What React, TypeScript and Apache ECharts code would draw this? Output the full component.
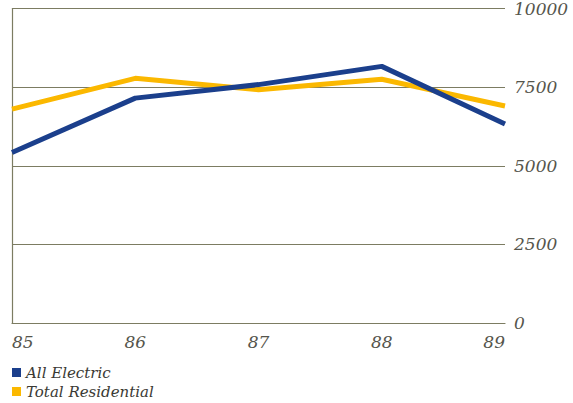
import React, { useEffect, useRef } from "react";
import * as echarts from "echarts";

const years = ["85", "86", "87", "88", "89"];
const allElectric = [5420, 7150, 7580, 8160, 6330];
const totalResidential = [6800, 7780, 7420, 7750, 6900];
const yTicks = { min: 0, max: 10000, interval: 2500 };

const BLUE = "#1b3f8c";
const YELLOW = "#fbb800";
const RULE = "#7c7c62";
const TEXT = "#55554c";
const FONT = "DejaVu Serif";

const legendText = {
  fontFamily: FONT,
  fontStyle: "italic",
  fontSize: 15,
  color: "#3a3a34",
};

export default function App() {
  const ref = useRef<HTMLDivElement>(null);

  useEffect(() => {
    if (!ref.current) return;
    const chart = echarts.init(ref.current, null, { renderer: "svg" });
    chart.setOption({
      animation: false,
      backgroundColor: "#ffffff",
      grid: { left: 12, right: 68, top: 7, bottom: 80 },
      legend: [
        {
          left: 12,
          top: 365,
          itemWidth: 9,
          itemHeight: 9,
          itemGap: 4,
          icon: "rect",
          padding: 0,
          textStyle: legendText,
          data: ["All Electric"],
        },
        {
          left: 12,
          top: 384,
          itemWidth: 9,
          itemHeight: 9,
          itemGap: 4,
          icon: "rect",
          padding: 0,
          textStyle: legendText,
          data: ["Total Residential"],
        },
      ],
      xAxis: {
        type: "category",
        data: years,
        boundaryGap: false,
        axisLine: { show: true, lineStyle: { color: RULE, width: 1.2 } },
        axisTick: { show: false },
        axisLabel: {
          fontFamily: FONT,
          fontStyle: "italic",
          fontSize: 17,
          color: TEXT,
          margin: 10,
          alignMinLabel: "left",
          alignMaxLabel: "right",
        },
      },
      yAxis: [
        {
          type: "value",
          position: "right",
          min: yTicks.min,
          max: yTicks.max,
          interval: yTicks.interval,
          axisLine: { show: false },
          axisTick: { show: false },
          splitLine: { show: true, lineStyle: { color: RULE, width: 1.2 } },
          axisLabel: {
            fontFamily: FONT,
            fontStyle: "italic",
            fontSize: 17,
            color: TEXT,
            margin: 9,
            formatter: (v: number) => String(v),
          },
        },
        {
          type: "value",
          position: "left",
          min: yTicks.min,
          max: yTicks.max,
          interval: yTicks.interval,
          axisLine: { show: true, lineStyle: { color: RULE, width: 1.2 } },
          axisTick: { show: false },
          axisLabel: { show: false },
          splitLine: { show: false },
        },
      ],
      series: [
        {
          name: "Total Residential",
          type: "line",
          data: totalResidential,
          symbol: "none",
          itemStyle: { color: YELLOW },
          lineStyle: { color: YELLOW, width: 5 },
        },
        {
          name: "All Electric",
          type: "line",
          data: allElectric,
          symbol: "none",
          itemStyle: { color: BLUE },
          lineStyle: { color: BLUE, width: 5 },
        },
      ],
    });
    return () => chart.dispose();
  }, []);

  return (
    <div
      ref={ref}
      style={{ position: "fixed", left: 0, top: 0, width: 573, height: 403, background: "#fff" }}
    />
  );
}
